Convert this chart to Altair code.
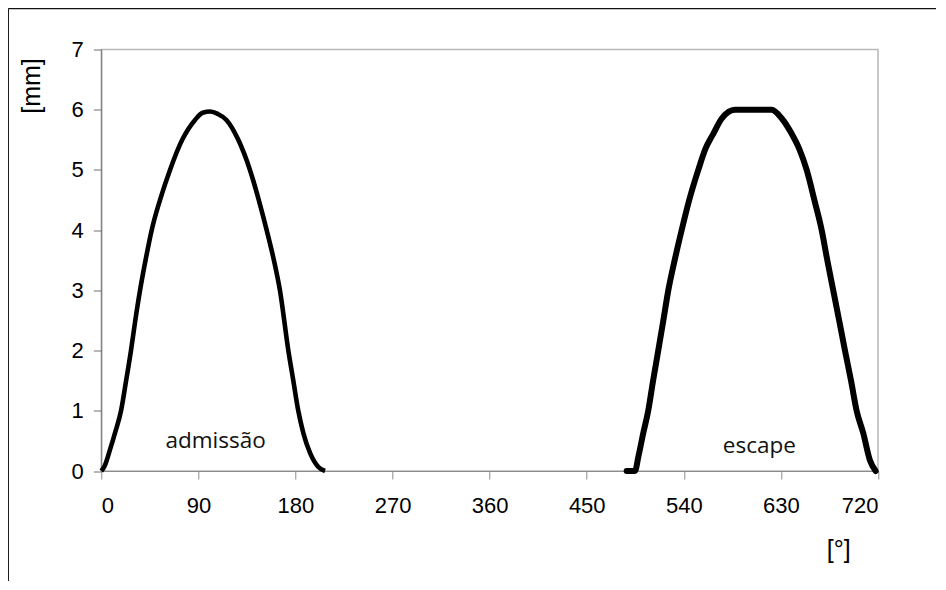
import altair as alt
import pandas as pd

# Admission (admissão) lift curve
adm_deg = [0, 3, 8, 13, 18.3, 23, 27.5, 31.5, 35.9, 41, 46.7, 54.4, 63.7, 75, 86.9, 94, 101, 108, 116, 127, 137.8, 146, 153.3, 160, 165.6, 173.4, 178, 182.6, 187.3, 193.5, 201, 207.4]
adm_mm = [0, 0.08, 0.35, 0.65, 1.0, 1.5, 2.0, 2.5, 3.0, 3.5, 4.0, 4.5, 5.0, 5.5, 5.83, 5.95, 5.97, 5.93, 5.83, 5.5, 5.0, 4.5, 4.0, 3.5, 3.0, 2.0, 1.5, 1.0, 0.63, 0.3, 0.07, 0]

# Exhaust (escape) lift curve
esc_deg = [487, 494.7, 498, 502.4, 507, 511.5, 516.3, 521, 525.6, 531.5, 538, 545, 553.4, 560, 567.3, 575, 587.4, 600, 610, 621.4, 631, 640, 647, 653.9, 661, 667.8, 673, 678.5, 684, 689.4, 695, 700.2, 706.3, 712.5, 717.8]
esc_mm = [0, 0, 0.25, 0.63, 1.0, 1.5, 2.0, 2.5, 3.0, 3.5, 4.0, 4.5, 5.0, 5.35, 5.6, 5.85, 6.0, 6.0, 6.0, 6.0, 5.85, 5.6, 5.35, 5.0, 4.5, 4.0, 3.5, 3.0, 2.5, 2.0, 1.5, 1.0, 0.63, 0.18, 0]

# Labels
label_text = ["admissão", "escape"]
label_deg = [106, 610]
label_mm = [0.38, 0.30]

x_ticks = [0, 90, 180, 270, 360, 450, 540, 630, 720]
y_ticks = [0, 1, 2, 3, 4, 5, 6, 7]

adm = pd.DataFrame({"deg": adm_deg, "mm": adm_mm})
esc = pd.DataFrame({"deg": esc_deg, "mm": esc_mm})
lab = pd.DataFrame({"t": label_text, "deg": label_deg, "mm": label_mm})

W = 776.7
H = 421.5

xs = alt.Scale(domain=[0, 720], nice=False, zero=False)
ys = alt.Scale(domain=[0, 7], nice=False)

x_axis = alt.Axis(values=x_ticks, format="d", title="[°]", grid=False,
                  domainColor="#8c8c8c", tickColor="#8c8c8c",
                  titleX=737, titleY=78, titleAlign="center", titleBaseline="middle")
y_axis = alt.Axis(values=y_ticks, format="d", title="[mm]", grid=False,
                  domainColor="#707070", tickColor="#707070",
                  titleX=-70, titleY=36, titleAngle=-90, titleAlign="center", titleBaseline="middle")

base_adm = alt.Chart(adm).mark_line(color="black", strokeWidth=4.6, interpolate="monotone").encode(
    x=alt.X("deg:Q", scale=xs, axis=x_axis),
    y=alt.Y("mm:Q", scale=ys, axis=y_axis),
    order="deg:Q",
)
base_esc = alt.Chart(esc).mark_line(color="black", strokeWidth=6, strokeCap="round",
                                    interpolate="monotone").encode(
    x=alt.X("deg:Q", scale=xs, axis=x_axis),
    y=alt.Y("mm:Q", scale=ys, axis=y_axis),
    order="deg:Q",
)
texts = alt.Chart(lab).mark_text(font="Open Sans", fontSize=22.5, color="#111",
                                 align="center", baseline="alphabetic").encode(
    x=alt.X("deg:Q", scale=xs, axis=x_axis),
    y=alt.Y("mm:Q", scale=ys, axis=y_axis),
    text="t:N",
)

frame_top = alt.Chart(pd.DataFrame({"a": [0]})).mark_rule(color="#111", strokeWidth=1.3).encode(
    x=alt.value(-93), x2=alt.value(W + 60), y=alt.value(-41)
)
frame_left = alt.Chart(pd.DataFrame({"a": [0]})).mark_rule(color="#111", strokeWidth=1.3).encode(
    x=alt.value(-93), y=alt.value(-41), y2=alt.value(H + 130)
)

chart = alt.layer(base_adm, base_esc, texts, frame_top, frame_left).properties(
    width=W, height=H,
    autosize=alt.AutoSizeParams(type="none"),
    padding={"left": 93.3, "top": 41.5, "right": 58, "bottom": 110},
    background="white",
).configure_view(stroke="#b8b8b8", strokeWidth=1.5).configure_axis(
    labelFont="Liberation Sans", titleFont="Liberation Sans",
    labelFontSize=22, titleFontSize=25, labelColor="#000", titleColor="#000",
    titleFontWeight="normal", tickSize=8,
).configure_axisX(labelPadding=16).configure_axisY(labelPadding=10)

chart.save("out.html", embed_options={"renderer": "svg", "actions": False})
